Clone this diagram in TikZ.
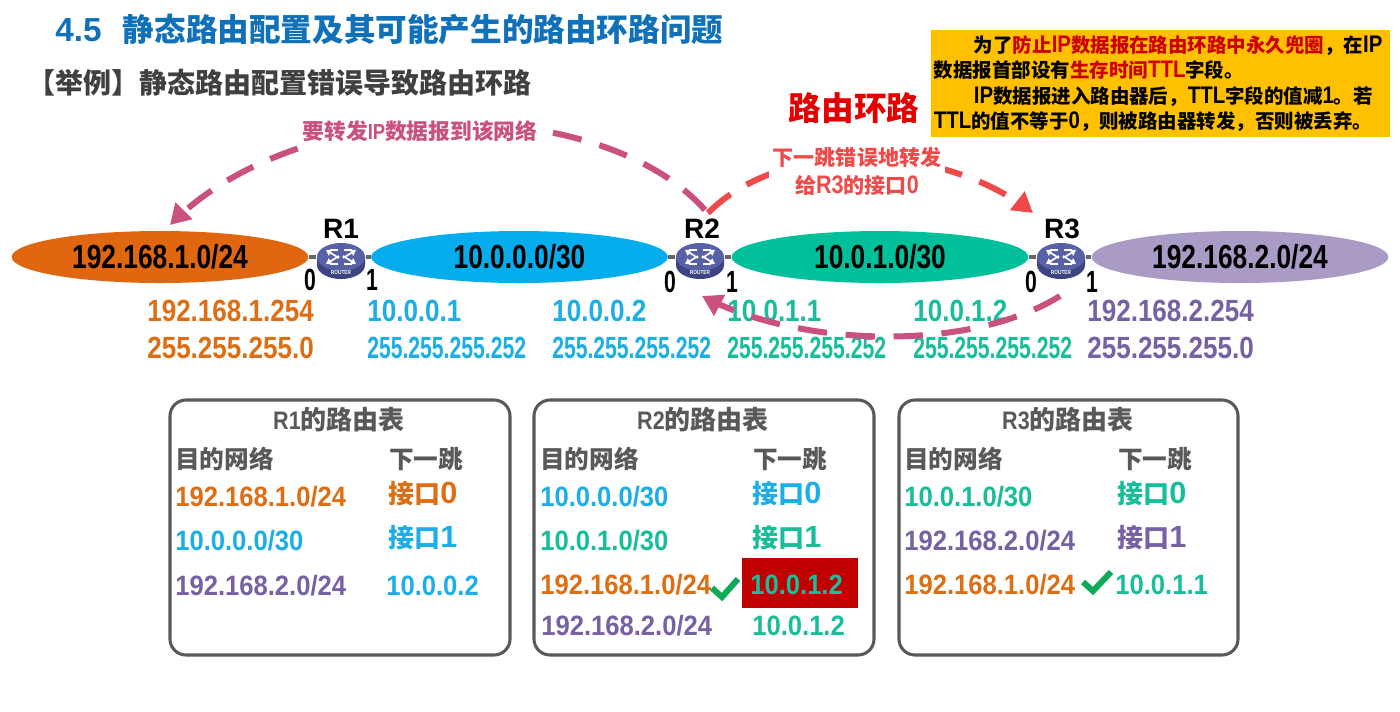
\documentclass[tikz,border=0pt]{standalone}
\usepackage{fontspec}
\usetikzlibrary{arrows.meta,shapes.geometric,bending}
\newfontfamily\cjkf{Noto Sans CJK SC}
\newfontfamily\latf[FakeStretch=.85]{Liberation Sans}
\newfontfamily\latu{Liberation Sans}
\newfontfamily\numa[FakeStretch=.85]{Liberation Sans}
\newfontfamily\numb[FakeStretch=.69]{Liberation Sans}
\newfontfamily\numc[FakeStretch=.79]{Liberation Sans}
\newfontfamily\numd[FakeStretch=.915]{Liberation Sans}
\newcommand{\Cj}[1]{{\cjkf\bfseries #1}}
\newcommand{\La}[1]{{\latf\bfseries #1}}
\newcommand{\Lb}[1]{{\fontsize{18}{19}\selectfont\latf\bfseries #1}}
\newcommand{\Lc}[1]{{\fontsize{19}{20}\selectfont\latf\bfseries #1}}
\newcommand{\Dg}[1]{{\fontsize{23}{24}\selectfont\latu\bfseries #1}}
\definecolor{cOrange}{HTML}{E0660F}
\definecolor{cBlue}{HTML}{06ADEC}
\definecolor{cGreen}{HTML}{00BF9B}
\definecolor{cPurple}{HTML}{A99BC6}
\definecolor{tOrange}{HTML}{DE6E14}
\definecolor{tBlue}{HTML}{1CAEE6}
\definecolor{tGreen}{HTML}{18BE9A}
\definecolor{tPurple}{HTML}{7661A3}
\definecolor{cPink}{HTML}{C9507F}
\definecolor{cRed}{HTML}{EF4A4A}
\definecolor{cGrey}{HTML}{595959}
\definecolor{cTick}{HTML}{0FA958}
\tikzset{
  x=0.75pt,y=-0.75pt,
  net/.style={ellipse,minimum width=222.5pt,minimum height=39pt,inner sep=0pt,
    font=\fontsize{25}{26}\selectfont\numc\bfseries},
  routernode/.style={ellipse,minimum width=37pt,minimum height=27pt,inner sep=0pt},
  linkline/.style={draw=black!60,line width=3pt},
  txt/.style={anchor=west,inner sep=0pt},
  addr/.style={txt,font=\fontsize{23}{24}\selectfont\numa\bfseries},
  mask/.style={txt,font=\fontsize{23}{24}\selectfont\numb\bfseries},
  rname/.style={inner sep=0pt,font=\fontsize{21}{21}\selectfont\latu\bfseries},
  port/.style={inner sep=0pt,font=\fontsize{23}{24}\selectfont\numb\bfseries},
  tbl/.style={draw=cGrey,line width=2.3pt,rounded corners=12pt,fill=white},
  tbltitle/.style={inner sep=0pt,text=cGrey,font=\fontsize{19.5}{20}\selectfont},
  tblhead/.style={txt,text=cGrey,font=\fontsize{18.5}{20}\selectfont},
  cell/.style={txt,font=\fontsize{21}{22}\selectfont\numd\bfseries},
  cellc/.style={txt,font=\fontsize{19.5}{20}\selectfont},
  arc/.style={line width=4.5pt,dash pattern=on 22pt off 14pt,
    -{Triangle[length=15pt,width=17pt,flex=0]}},
  tick/.style={draw=cTick,line width=4.5pt},
  routerpic/.pic={
    \fill[fill={rgb,255:red,62;green,68;blue,128}] (-24,-5) -- (-24,4) arc[x radius=24,y radius=14,start angle=180,end angle=0] -- (24,-5) -- cycle;
    \fill[fill={rgb,255:red,88;green,96;blue,166}] (0,-4) ellipse[x radius=24,y radius=14];
    \foreach \sx in {-1,1}{
      \draw[white,line width=1.3pt,-{Triangle[length=4pt,width=5pt]}] (\sx*2,-3) -- (\sx*15,-11);
      \draw[white,line width=1.3pt,-{Triangle[length=4pt,width=5pt]}] (\sx*2,-5) -- (\sx*15,3);
      \draw[white,line width=1.3pt] (\sx*3,-11) -- (\sx*11,-11);
      \draw[white,line width=1.3pt] (\sx*3,3) -- (\sx*11,3);
    }
    \node[inner sep=0pt,text=white,font=\fontsize{4.2}{5}\selectfont\latf\bfseries] at (0,12) {ROUTER};
  }
}
\begin{document}
\begin{tikzpicture}
\path[use as bounding box,fill=white] (0,0) rectangle (1400,711);
% titles
\node[txt,text={rgb,255:red,16;green,112;blue,184},font=\fontsize{23.7}{26}\selectfont] (title) at (55,30) {{\fontsize{25}{26}\selectfont\latu\bfseries 4.5}\hspace{16pt}\Cj{静态路由配置及其可能产生的路由环路问题}};
\node[txt,text=black!75,font=\fontsize{21}{24}\selectfont] (sub) at (27,83) {\Cj{【举例】静态路由配置错误导致路由环路}};
% yellow note
\node[anchor=north west,fill={rgb,255:red,255;green,192;blue,0},minimum width=344pt,minimum height=80pt,inner xsep=2pt,inner ysep=2pt,text width=340pt,align=left,font=\fontsize{14.6}{19}\selectfont] (note) at (931,30) {\hspace{30pt}\Cj{为了}\textcolor{red!80!black}{\Cj{防止}\Lb{IP}\Cj{数据报在路由环路中永久兜圈}}\Cj{，在}\Lb{IP}\\
\Cj{数据报首部设有}\textcolor{red!80!black}{\Cj{生存时间}\Lb{TTL}}\Cj{字段。}\\
\hspace{30pt}\Lb{IP}\Cj{数据报进入路由器后，}\Lb{TTL}\Cj{字段的值减}\Lb{1}\Cj{。若}\\
\Lb{TTL}\Cj{的值不等于}\Lb{0}\Cj{，则被路由器转发，否则被丢弃。}};
% networks
\node[net,fill=cOrange] (net1) at (160,257) {192.168.1.0/24};
\node[net,fill=cBlue] (net2) at (519.5,257) {10.0.0.0/30};
\node[net,fill=cGreen] (net3) at (880,257) {10.0.1.0/30};
\node[net,fill=cPurple] (net4) at (1240,257) {192.168.2.0/24};
% routers
\node[routernode] (r1) at (341,257) {};
\node[routernode] (r2) at (700,257) {};
\node[routernode] (r3) at (1061,257) {};
\draw[linkline] (net1.east) -- (r1.west);
\draw[linkline] (r1.east) -- (net2.west);
\draw[linkline] (net2.east) -- (r2.west);
\draw[linkline] (r2.east) -- (net3.west);
\draw[linkline] (net3.east) -- (r3.west);
\draw[linkline] (r3.east) -- (net4.west);
\pic at (341,261) {routerpic};
\pic at (700,261) {routerpic};
\pic at (1061,261) {routerpic};
\node[rname] (n1) at (341,229) {R1};
\node[rname] (n2) at (702,229) {R2};
\node[rname] (n3) at (1062,229) {R3};
\node[port] (p10) at (310,280) {0};
\node[port] (p11) at (372,280) {1};
\node[port] (p20) at (670,282) {0};
\node[port] (p21) at (732,282) {1};
\node[port] (p30) at (1031,282) {0};
\node[port] (p31) at (1092,282) {1};
% addresses
\node[addr,text=tOrange] (a1) at (147,311) {192.168.1.254};
\node[addr,text=tOrange] (m1) at (147,348) {255.255.255.0};
\node[addr,text=tBlue] (a2) at (367,311) {10.0.0.1};
\node[mask,text=tBlue] (m2) at (367,348) {255.255.255.252};
\node[addr,text=tBlue] (a3) at (552,311) {10.0.0.2};
\node[mask,text=tBlue] (m3) at (552,348) {255.255.255.252};
\node[addr,text=tGreen] (a4) at (727,311) {10.0.1.1};
\node[mask,text=tGreen] (m4) at (727,348) {255.255.255.252};
\node[addr,text=tGreen] (a5) at (913,311) {10.0.1.2};
\node[mask,text=tGreen] (m5) at (913,348) {255.255.255.252};
\node[addr,text=tPurple] (a6) at (1087,311) {192.168.2.254};
\node[addr,text=tPurple] (m6) at (1087,348) {255.255.255.0};
% arcs
\coordinate (s1) at (705,210);
\coordinate (e1) at (170,225);
\coordinate (s2) at (708,213);
\coordinate (e2) at (1033,213);
\coordinate (s3) at (1060,296);
\coordinate (e3) at (702,296);
\draw[arc,draw=cPink,-{Triangle[length=15pt,width=17pt,flex=0,fill=cPink]}] (s1) .. controls (600,92) and (300,92) .. (e1);
\draw[arc,draw=cRed] (s2) .. controls (780,140) and (940,140) .. (e2);
\draw[arc,draw=cPink] (s3) .. controls (970,352) and (800,348) .. (e3);
\node[fill=white,inner xsep=1pt,inner ysep=6pt,text=cPink,font=\fontsize{16.3}{18}\selectfont] (l1) at (420,131) {\Cj{要转发}\La{IP}\Cj{数据报到该网络}};
\node[fill=white,inner sep=3pt,text=cRed,align=center,font=\fontsize{15.8}{21}\selectfont] (l2) at (857,171) {\Cj{下一跳错误地转发}\\\Cj{给}\Lc{R3}\Cj{的接口}\Lc{0}};
\node[inner sep=0pt,text=red!90!black,font=\fontsize{24.5}{26}\selectfont] (l3) at (854,108) {\Cj{路由环路}};
% table 1
\draw[tbl] (170,400) rectangle (510,655);
\node[tbltitle] (t1) at (339,420) {\Lc{R1}\Cj{的路由表}};
\node[tblhead] (h11) at (175,459) {\Cj{目的网络}};
\node[tblhead] (h12) at (389,459) {\Cj{下一跳}};
\node[cell,text=tOrange] (c11) at (175,497) {192.168.1.0/24};
\node[cellc,text=tOrange] (d11) at (388,494) {\Cj{接口}\Dg{0}};
\node[cell,text=tBlue] (c12) at (175,541) {10.0.0.0/30};
\node[cellc,text=tBlue] (d12) at (388,538) {\Cj{接口}\Dg{1}};
\node[cell,text=tPurple] (c13) at (175,586) {192.168.2.0/24};
\node[cell,text=tBlue] (d13) at (386,586) {10.0.0.2};
% table 2
\draw[tbl] (534,400) rectangle (874,655);
\node[tbltitle] (t2) at (703,420) {\Lc{R2}\Cj{的路由表}};
\node[tblhead] (h21) at (540,459) {\Cj{目的网络}};
\node[tblhead] (h22) at (753,459) {\Cj{下一跳}};
\node[cell,text=tBlue] (c21) at (540,497) {10.0.0.0/30};
\node[cellc,text=tBlue] (d21) at (752,494) {\Cj{接口}\Dg{0}};
\node[cell,text=tGreen] (c22) at (540,541) {10.0.1.0/30};
\node[cellc,text=tGreen] (d22) at (752,538) {\Cj{接口}\Dg{1}};
\node[cell,text=tOrange] (c23) at (540,585) {192.168.1.0/24};
\fill[fill={rgb,255:red,192;green,0;blue,0}] (742,558) rectangle (858,608);
\node[cell,text=tGreen] (d23) at (750,585) {10.0.1.2};
\draw[tick] (712,588) -- (722,597) -- (738,579);
\node[cell,text=tPurple] (c24) at (541,626) {192.168.2.0/24};
\node[cell,text=tGreen] (d24) at (752,626) {10.0.1.2};
% table 3
\draw[tbl] (899,400) rectangle (1238,655);
\node[tbltitle] (t3) at (1068,420) {\Lc{R3}\Cj{的路由表}};
\node[tblhead] (h31) at (904,459) {\Cj{目的网络}};
\node[tblhead] (h32) at (1118,459) {\Cj{下一跳}};
\node[cell,text=tGreen] (c31) at (904,497) {10.0.1.0/30};
\node[cellc,text=tGreen] (d31) at (1117,494) {\Cj{接口}\Dg{0}};
\node[cell,text=tPurple] (c32) at (904,541) {192.168.2.0/24};
\node[cellc,text=tPurple] (d32) at (1117,538) {\Cj{接口}\Dg{1}};
\node[cell,text=tOrange] (c33) at (904,585) {192.168.1.0/24};
\draw[tick] (1083,582) -- (1093,591) -- (1111,572);
\node[cell,text=tGreen] (d33) at (1115,585) {10.0.1.1};
\end{tikzpicture}
\end{document}
